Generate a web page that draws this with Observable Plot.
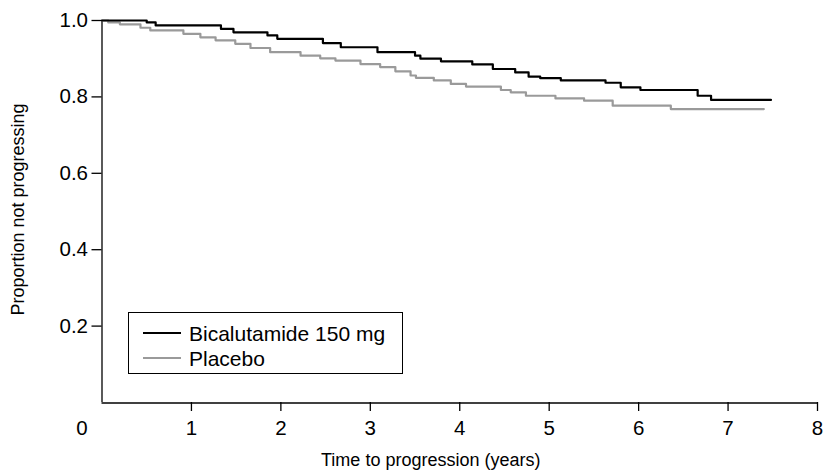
<!DOCTYPE html>
<html>
<head>
<meta charset="utf-8">
<script src="https://cdn.jsdelivr.net/npm/d3@7"></script>
<script src="https://cdn.jsdelivr.net/npm/@observablehq/plot@0.6"></script>
<style>
  html, body { margin: 0; padding: 0; background: #fff; }
  #wrap { position: relative; width: 824px; height: 471px; font-family: "Liberation Sans", Arial, Helvetica, sans-serif; }
  #legend { position: absolute; left: 128px; top: 312px; width: 273px; height: 60px; border: 1.3px solid #000; box-sizing: content-box; }
  .li { position: absolute; left: 60px; font-size: 21px; line-height: 20px; color: #000; white-space: nowrap; }
  .sw { position: absolute; left: 14px; width: 38px; height: 0; border-top: 2px solid; }
</style>
</head>
<body>
<div id="wrap"></div>
<script>
// Kaplan–Meier estimates
const bicaTime = [0, 0.5, 0.6, 1.33, 1.47, 1.85, 1.96, 2.47, 2.67, 3.08, 3.50, 3.56, 3.79, 4.14, 4.37, 4.62, 4.77, 4.90, 5.13, 5.63, 5.80, 6.02, 6.66, 6.81, 7.48];
const bicaSurv = [1.0, 0.995, 0.987, 0.978, 0.969, 0.961, 0.952, 0.941, 0.930, 0.917, 0.908, 0.900, 0.893, 0.885, 0.873, 0.864, 0.853, 0.849, 0.843, 0.837, 0.825, 0.818, 0.803, 0.792, 0.792];
const placTime = [0, 0.07, 0.2, 0.43, 0.54, 0.91, 1.10, 1.27, 1.49, 1.66, 1.88, 2.22, 2.44, 2.61, 2.89, 3.11, 3.28, 3.45, 3.51, 3.71, 3.90, 4.07, 4.46, 4.57, 4.74, 5.07, 5.39, 5.71, 6.36, 7.40];
const placSurv = [1.0, 0.995, 0.990, 0.981, 0.974, 0.965, 0.956, 0.948, 0.939, 0.928, 0.917, 0.908, 0.901, 0.895, 0.886, 0.878, 0.867, 0.856, 0.850, 0.843, 0.834, 0.827, 0.818, 0.812, 0.803, 0.796, 0.790, 0.777, 0.768, 0.768];
const seriesNames = ["Bicalutamide 150 mg", "Placebo"];
const seriesColors = ["#000000", "#9a9a9a"];
const xTicks = [1, 2, 3, 4, 5, 6, 7, 8];
const yTicks = [0.2, 0.4, 0.6, 0.8, 1.0];
const xLabel = "Time to progression (years)";
const yLabel = "Proportion not progressing";

const bica = bicaTime.map((t, i) => ({t, s: bicaSurv[i]}));
const plac = placTime.map((t, i) => ({t, s: placSurv[i]}));

const font = "Liberation Sans, Arial, Helvetica, sans-serif";
const chart = Plot.plot({
  width: 824,
  height: 471,
  marginLeft: 101.5,
  marginRight: 7,
  marginTop: 20,
  marginBottom: 69,
  style: {fontFamily: font, background: "#fff", color: "#000"},
  x: {domain: [0, 8]},
  y: {domain: [0, 1]},
  marks: [
    Plot.ruleX([0], {stroke: "#000", strokeWidth: 1.3, y1: 0, y2: 1}),
    Plot.ruleY([0], {stroke: "#000", strokeWidth: 1.3, dy: 0.5}),
    Plot.axisY({ticks: yTicks, tickFormat: d3.format(".1f"), tickSize: 10, tickPadding: 4, fontSize: 20.5, label: null, strokeWidth: 1.3}),
    Plot.axisX({ticks: xTicks, tickFormat: d3.format("d"), tickSize: 9, tickPadding: 9, fontSize: 20.5, label: null, strokeWidth: 1.3}),
    Plot.axisX({ticks: [0], tickFormat: d3.format("d"), tickSize: 0, tickPadding: 18, dx: -20, fontSize: 20.5, label: null}),
    Plot.text([xLabel], {frameAnchor: "bottom", textAnchor: "middle", dx: -29, dy: 63, fontSize: 18, fill: "#000"}),
    Plot.text([yLabel], {frameAnchor: "left", textAnchor: "middle", dx: -83.5, dy: -2, rotate: -90, fontSize: 18, fill: "#000"}),
    Plot.line(plac, {x: "t", y: "s", curve: "step-after", stroke: seriesColors[1], strokeWidth: 2.2}),
    Plot.line(bica, {x: "t", y: "s", curve: "step-after", stroke: seriesColors[0], strokeWidth: 2.2})
  ]
});
const wrap = document.getElementById("wrap");
wrap.appendChild(chart);

const legend = document.createElement("div");
legend.id = "legend";
seriesNames.forEach((name, i) => {
  const sw = document.createElement("div");
  sw.className = "sw";
  sw.style.borderTopColor = seriesColors[i];
  sw.style.top = (19 + i * 25) + "px";
  legend.appendChild(sw);
  const li = document.createElement("div");
  li.className = "li";
  li.style.top = (11 + i * 25) + "px";
  li.textContent = name;
  legend.appendChild(li);
});
wrap.appendChild(legend);
</script>
</body>
</html>
